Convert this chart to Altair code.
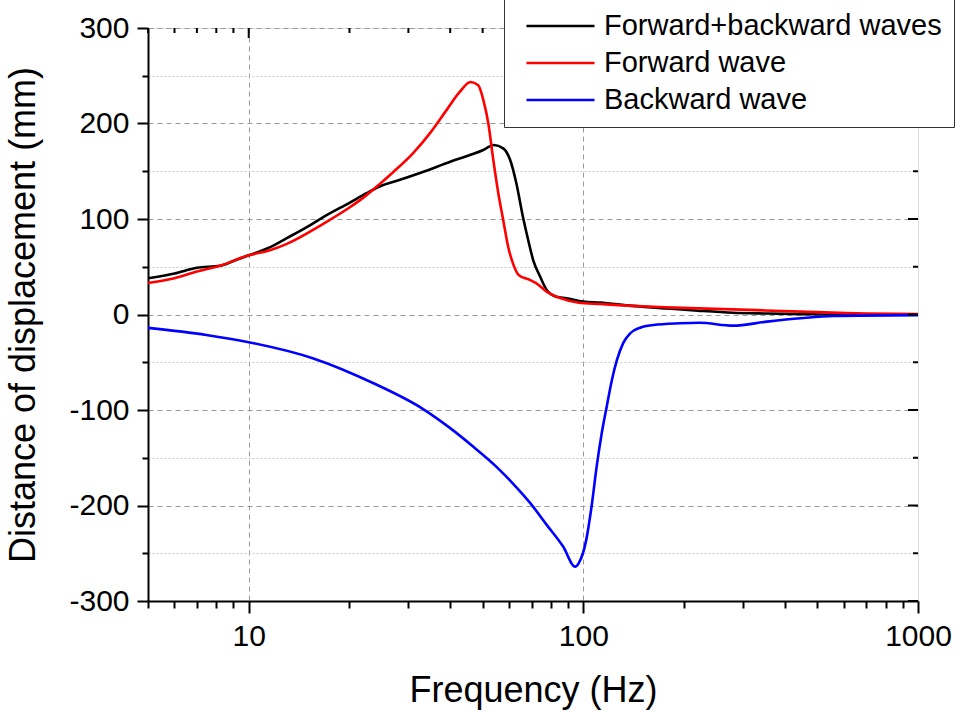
import altair as alt
import pandas as pd

# ---------------- data ----------------
series_names = ["Forward+backward waves", "Forward wave", "Backward wave"]
series_colors = ["#000000", "#ff0000", "#0000ff"]

fb_freq = [5, 6, 7, 8.2, 9, 10, 11.5, 13, 15, 16.7, 20, 22.5, 24.6, 28.3, 33.6, 40, 45.8, 50, 52.5,
           54, 57.6, 60.4, 63.1, 66, 68.4, 70.8, 74.3, 77.6, 83, 89, 100, 112, 140, 177, 220, 280,
           354, 450, 560, 700, 1000]
fb_disp = [38, 43, 49, 51, 56, 62, 70, 80, 92, 102, 117, 127, 134, 141, 150, 160, 167, 172, 176,
           177.5, 174, 162, 137, 102, 78, 57, 39.5, 26, 18.6, 17, 13.5, 12.4, 9, 6.4, 4, 1.8,
           1, 0.4, 0, 0, 0]

fw_freq = [5, 6, 7, 8.2, 10, 11.5, 13, 16.7, 20, 22.5, 24.6, 27, 31, 35, 39, 42.7, 46, 48.5, 50.3,
           52, 53.8, 55.7, 57.6, 59.6, 61.6, 64.2, 69.4, 72.4, 77.6, 85.7, 97, 112, 140, 177, 280,
           446, 700, 1000]
fw_disp = [33, 38, 45, 51, 62, 67, 74, 95, 112, 125, 136.5, 149, 169, 191, 214, 233, 243.5, 240, 224,
           200, 162, 127, 99, 71, 53.5, 41, 36, 32.6, 24, 17, 12.3, 11, 9, 7.5, 5.4, 3, 1, 0.5]

bw_freq = [5, 7.47, 10, 15.6, 23.6, 33.2, 40, 46.9, 55, 61.6, 69.4, 77.6, 87, 94.5, 97, 102,
           105.8, 109.6, 113.5, 117.5, 121.7, 126, 131.5, 138, 147.8, 162, 194, 222, 280, 354,
           446, 560, 1000]
bw_disp = [-14, -21.4, -29, -46, -72, -99, -119, -138.5, -159.5, -177, -197.5, -220, -243, -264,
           -260, -236, -201, -159, -124, -96, -68.5, -47.6, -30, -19.7, -13.8, -11, -9.2, -8.6,
           -11.7, -7.5, -4, -1.6, -0.7]

x_major = [10, 100, 1000]
x_minor = [5, 6, 7, 8, 9, 20, 30, 40, 50, 60, 70, 80, 90, 200, 300, 400, 500, 600, 700, 800, 900]
y_major = [-300, -200, -100, 0, 100, 200, 300]
y_minor = [-250, -150, -50, 50, 150, 250]

# ---------------- tables ----------------
rows = []
for name, fs, ds in [(series_names[0], fb_freq, fb_disp),
                     (series_names[1], fw_freq, fw_disp),
                     (series_names[2], bw_freq, bw_disp)]:
    for f, d in zip(fs, ds):
        rows.append({"series": name, "freq": f, "disp": d})
df = pd.DataFrame(rows)

xmaj_df = pd.DataFrame({"v": x_major})
xmin_df = pd.DataFrame({"v": x_minor})
ymaj_df = pd.DataFrame({"v": y_major})
ymin_df = pd.DataFrame({"v": y_minor})

W, H = 770, 573
FONT = "Liberation Sans"

xscale = alt.Scale(type="log", domain=[5, 1000], nice=False)
yscale = alt.Scale(domain=[-300, 300], nice=False, zero=False)

x_is_major = "datum.value == 10 || datum.value == 100 || datum.value == 1000"
y_is_major = "datum.value % 100 == 0"

x_axis = alt.Axis(
    values=sorted(x_major + x_minor),
    labelExpr=f"({x_is_major}) ? '' + datum.value : ''",
    title="Frequency (Hz)",
    titleFontSize=36, titleFont=FONT, titleFontWeight="normal", titleColor="black",
    titleY=100, titleBaseline="alphabetic",
    labelFontSize=30, labelFont=FONT, labelColor="black", labelPadding=8,
    labelFlush=False, labelOverlap=False,
    tickColor="black", tickWidth=2,
    tickSize={"condition": {"test": x_is_major, "value": 12}, "value": 7},
    domainColor="black", domainWidth=2,
    grid=True, gridColor="#999999", gridDash=[5, 4], gridWidth=1,
    gridOpacity={"condition": {"test": "datum.value == 10 || datum.value == 100", "value": 1}, "value": 0},
)

y_axis = alt.Axis(
    values=sorted(y_major + y_minor),
    labelExpr=f"({y_is_major}) ? '' + datum.value : ''",
    title="Distance of displacement (mm)",
    titleFontSize=36, titleFont=FONT, titleFontWeight="normal", titleColor="black",
    titleX=-114, titleY=H / 2, titleAngle=270, titleBaseline="alphabetic", titleAlign="center",
    labelFontSize=30, labelFont=FONT, labelColor="black", labelPadding=8,
    labelFlush=False, labelOverlap=False,
    tickColor="black", tickWidth=2,
    tickSize={"condition": {"test": y_is_major, "value": 11}, "value": 6},
    domainColor="black", domainWidth=2,
    grid=True, gridWidth=1,
    gridColor={"condition": {"test": y_is_major, "value": "#999999"}, "value": "#c8c8c8"},
    gridDash={"condition": {"test": y_is_major, "value": [5, 4]}, "value": [2, 2]},
)

lines = alt.Chart(df).mark_line(strokeWidth=2.6, interpolate="monotone").encode(
    x=alt.X("freq:Q", scale=xscale, axis=x_axis),
    y=alt.Y("disp:Q", scale=yscale, axis=y_axis),
    color=alt.Color(
        "series:N",
        scale=alt.Scale(domain=series_names, range=series_colors),
        legend=alt.Legend(
            title=None, orient="none", legendX=356, legendY=-29,
            symbolType="stroke", symbolSize=4624, symbolStrokeWidth=2.5,
            clipHeight=30,
            labelFontSize=29, labelFont=FONT, labelColor="black", labelLimit=600,
            labelOffset=8, symbolOffset=9, rowPadding=7, padding=12,
            fillColor="white", strokeColor="#333333",
        ),
    ),
    order=alt.Order("freq:Q"),
)

# inward ticks on the top and right frame edges (share the same axes)
top_major = alt.Chart(xmaj_df).mark_rule(color="black", strokeWidth=2).encode(
    x=alt.X("v:Q", scale=xscale, axis=x_axis), y=alt.value(0), y2=alt.value(10))
top_minor = alt.Chart(xmin_df).mark_rule(color="black", strokeWidth=2).encode(
    x=alt.X("v:Q", scale=xscale, axis=x_axis), y=alt.value(0), y2=alt.value(5))
right_major = alt.Chart(ymaj_df).mark_rule(color="black", strokeWidth=2).encode(
    y=alt.Y("v:Q", scale=yscale, axis=y_axis), x=alt.value(W), x2=alt.value(W - 10))
right_minor = alt.Chart(ymin_df).mark_rule(color="black", strokeWidth=2).encode(
    y=alt.Y("v:Q", scale=yscale, axis=y_axis), x=alt.value(W), x2=alt.value(W - 5))

chart = alt.layer(
    lines, top_major, top_minor, right_major, right_minor
).properties(
    width=W, height=H,
    padding={"left": 148, "top": 28, "right": 52, "bottom": 112},
    autosize=alt.AutoSizeParams(type="none"),
).configure_view(stroke="black", strokeWidth=2).configure(background="white")

chart.save("out.html", embed_options={"renderer": "svg", "actions": False})
